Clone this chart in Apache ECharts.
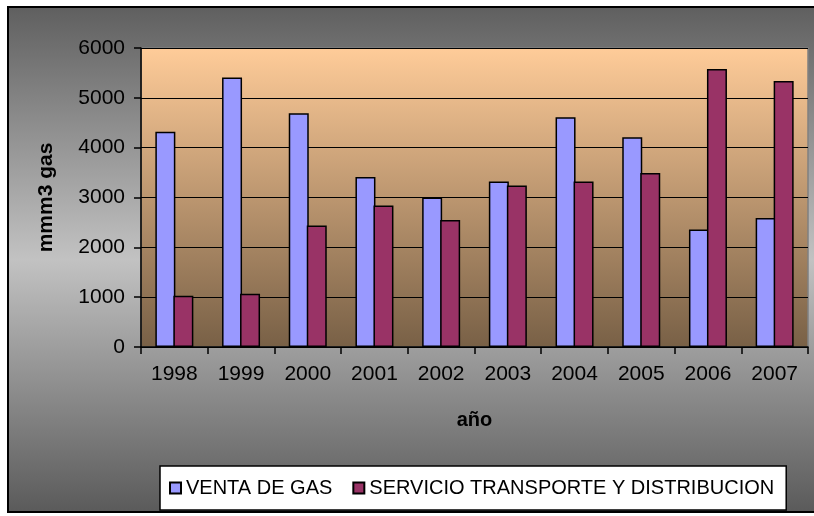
<!DOCTYPE html>
<html>
<head>
<meta charset="utf-8">
<script src="https://cdn.jsdelivr.net/npm/echarts@6/dist/echarts.min.js"></script>
<style>
html,body{margin:0;padding:0;background:#fff;}
#c{width:814px;height:516px;}
</style>
</head>
<body>
<div id="c"></div>
<script>
const categories = ['1998','1999','2000','2001','2002','2003','2004','2005','2006','2007'];
const ventaGas = [4320, 5410, 4690, 3410, 3000, 3320, 4610, 4210, 2360, 2590];
const servicioTransporte = [1030, 1070, 2440, 2840, 2550, 3240, 3320, 3490, 5580, 5340];
const yTicks = { min: 0, max: 6000, interval: 1000 };
const seriesNames = ['VENTA DE GAS', 'SERVICIO TRANSPORTE Y DISTRIBUCION'];

const font = '"Liberation Sans", Arial, sans-serif';
const chart = echarts.init(document.getElementById('c'));
chart.setOption({
  backgroundColor: '#ffffff',
  animation: false,
  graphic: [{
    type: 'rect',
    z: -100,
    shape: { x: 8, y: 7, width: 812, height: 505 },
    style: {
      fill: new echarts.graphic.LinearGradient(0, 0, 0, 1, [
        { offset: 0, color: '#5f5f5f' },
        { offset: 0.5, color: '#c2c2c2' },
        { offset: 1, color: '#5a5a5a' }
      ]),
      stroke: '#000',
      lineWidth: 2
    }
  }],
  grid: {
    left: 141, right: 6, top: 48, bottom: 169,
    show: true,
    backgroundColor: new echarts.graphic.LinearGradient(0, 0, 0, 1, [
      { offset: 0, color: '#ffcc99' },
      { offset: 1, color: '#786046' }
    ]),
    borderColor: '#808080',
    borderWidth: 1.5
  },
  legend: {
    data: seriesNames,
    left: 160, top: 466,
    padding: [12, 12, 12, 9],
    backgroundColor: '#ffffff',
    borderColor: '#000',
    borderWidth: 1.5,
    borderRadius: 0,
    itemWidth: 11, itemHeight: 11,
    itemGap: 20,
    icon: 'rect',
    textStyle: { fontFamily: font, fontSize: 20, color: '#000' }
  },
  xAxis: {
    type: 'category',
    data: categories,
    name: 'año',
    nameLocation: 'middle',
    nameGap: 63,
    nameTextStyle: { fontFamily: font, fontSize: 20, fontWeight: 'bold', color: '#000' },
    axisLine: { lineStyle: { color: '#000', width: 1.5 } },
    axisTick: { show: true, length: 7, lineStyle: { color: '#000', width: 1.5 } },
    axisLabel: { fontFamily: font, fontSize: 21, color: '#000', margin: 17 },
    splitLine: { show: false }
  },
  yAxis: {
    type: 'value',
    min: yTicks.min, max: yTicks.max, interval: yTicks.interval,
    name: 'mmm3 gas',
    nameLocation: 'middle',
    nameGap: 84,
    nameRotate: 90,
    nameTextStyle: { fontFamily: font, fontSize: 21, fontWeight: 'bold', color: '#000' },
    axisLine: { show: true, lineStyle: { color: '#000', width: 1.5 } },
    axisTick: { show: true, length: 7, lineStyle: { color: '#000', width: 1.5 } },
    axisLabel: { fontFamily: font, fontSize: 21, color: '#000', margin: 16, formatter: v => String(v) },
    splitLine: { show: true, lineStyle: { color: '#000', width: 1.2 } }
  },
  series: [
    {
      name: seriesNames[0], type: 'bar', data: ventaGas,
      barWidth: 20, barGap: '-10%',
      itemStyle: { color: '#9999ff', borderColor: '#000', borderWidth: 1.5 }
    },
    {
      name: seriesNames[1], type: 'bar', data: servicioTransporte,
      barWidth: 20,
      itemStyle: { color: '#993366', borderColor: '#000', borderWidth: 1.5 }
    }
  ]
});
</script>
</body>
</html>
